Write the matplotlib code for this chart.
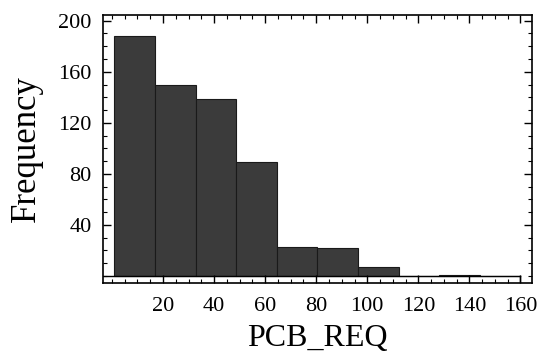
import matplotlib
matplotlib.use("Agg")
import matplotlib.pyplot as plt
from matplotlib.ticker import MultipleLocator

plt.rcParams['font.family'] = ['Liberation Serif', 'DejaVu Serif']

bin_edges = [1, 16.9, 32.8, 48.7, 64.6, 80.5, 96.4, 112.3, 128.2, 144.1, 160]
counts = [188, 150, 139, 89, 23, 22, 7, 0, 1, 0]
x_ticks = [20, 40, 60, 80, 100, 120, 140, 160]
y_ticks = [40, 80, 120, 160, 200]

fig = plt.figure(figsize=(5.38, 3.62), dpi=100)
ax = fig.add_axes([0.1914, 0.2182, 0.7974, 0.7404])

lefts = bin_edges[:-1]
widths = [b - a for a, b in zip(bin_edges[:-1], bin_edges[1:])]
ax.bar(lefts, counts, width=widths, align='edge', color='#3b3b3b',
       edgecolor='#1a1a1a', linewidth=0.8)

ax.set_xlim(-3.5, 164.5)
ax.set_ylim(-5.5, 204.5)
ax.axhline(0, color='black', linewidth=1.0, xmin=0, xmax=(160 + 3.5) / 168)
ax.plot([160, 160], [-5.5, 0], color='black', linewidth=1.0)

ax.set_xticks(x_ticks)
ax.set_yticks(y_ticks)
ax.xaxis.set_minor_locator(MultipleLocator(5))
ax.yaxis.set_minor_locator(MultipleLocator(10))
ax.tick_params(axis='both', which='major', direction='in', length=6, width=1.0,
               labelsize=16, top=True, right=True)
ax.tick_params(axis='x', which='major', pad=10)
ax.tick_params(axis='y', which='major', pad=8)
ax.tick_params(axis='both', which='minor', direction='in', length=3, width=0.8,
               top=True, right=True)

for s in ax.spines.values():
    s.set_linewidth(1.2)

ax.set_xlabel('PCB_REQ', fontsize=23, labelpad=6)
ax.set_ylabel('Frequency', fontsize=25, labelpad=11)

fig.savefig('out.png', dpi=100)
